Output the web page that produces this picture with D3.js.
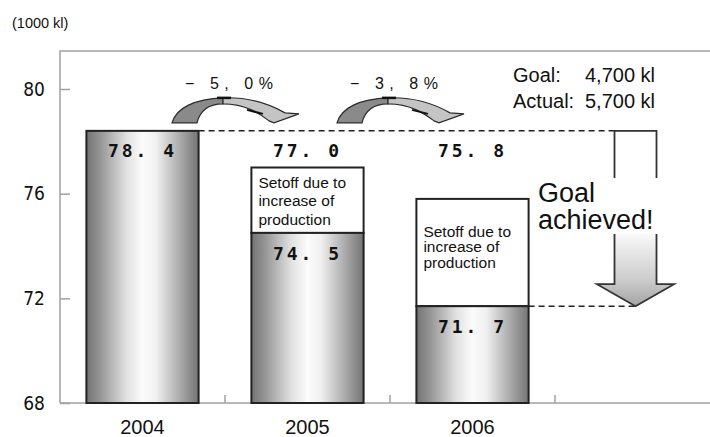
<!DOCTYPE html>
<html>
<head>
<meta charset="utf-8">
<script src="https://cdn.jsdelivr.net/npm/d3@7"></script>
<style>
  html, body { margin: 0; padding: 0; background: #fff; }
  svg { display: block; }
  text { font-family: "Liberation Sans", Arial, sans-serif; fill: #111; }
</style>
</head>
<body>
<svg id="chart" width="710" height="437"></svg>
<script>
// Fuel consumption (1000 kl): result after setoff and total including production increase
const years = ["2004", "2005", "2006"];
const actual = [78.4, 74.5, 71.7];
const totals = [78.4, 77.0, 75.8];
const pctChange = [-5.0, -3.8];
const yTicks = [68, 72, 76, 80];
const unitLabel = "(1000 kl)";
const setoffLines = ["Setoff due to", "increase of", "production"];
const goalLabels = ["Goal:", "Actual:"];
const goalValues = ["4,700 kl", "5,700 kl"];
const bannerLines = ["Goal", "achieved!"];

const plotLeft = 60, plotRight = 710, plotTop = 51, plotBottom = 403;
const svg = d3.select("#chart");
const defs = svg.append("defs");

// horizontal cylinder shading for the bars
const shade = defs.append("linearGradient").attr("id", "barShade")
  .attr("x1", "0%").attr("x2", "100%").attr("y1", "0%").attr("y2", "0%");
[[0, "#747474"], [0.12, "#949494"], [0.36, "#e2e2e2"], [0.5, "#fbfbfb"],
 [0.62, "#f0f0f0"], [0.86, "#a2a2a2"], [1, "#747474"]]
  .forEach(([o, c]) => shade.append("stop").attr("offset", o).attr("stop-color", c));

const slots = years.concat(["goal"]);
const x = d3.scaleBand().domain(slots).range([plotLeft, 720])
  .paddingInner(0.32).paddingOuter(0.16);
const y = d3.scaleLinear().domain([68, 80]).range([plotBottom, 89]);
const bw = x.bandwidth();
const step = x.step();

// frame
svg.append("path")
  .attr("d", `M${plotLeft},${plotBottom}V${plotTop}H${plotRight}`)
  .attr("fill", "none").attr("stroke", "#a0a0a0").attr("stroke-width", 1.5);
svg.append("line").attr("x1", plotLeft).attr("x2", plotRight).attr("y1", plotBottom).attr("y2", plotBottom)
  .attr("stroke", "#a0a0a0").attr("stroke-width", 1.5);

// y axis
const yAxis = svg.append("g").attr("transform", `translate(${plotLeft},0)`)
  .call(d3.axisLeft(y).tickValues(yTicks).tickSize(-10).tickPadding(15).tickFormat(d3.format("d")));
yAxis.select(".domain").remove();
yAxis.selectAll(".tick line").attr("stroke", "#a0a0a0").attr("stroke-width", 1.5);
yAxis.selectAll(".tick text")
  .style("font-family", "'DejaVu Sans Condensed', 'DejaVu Sans', sans-serif")
  .style("font-size", "19px").attr("fill", "#1a1a1a");

// x axis labels at band centres
const xAxis = svg.append("g").attr("transform", `translate(0,${plotBottom})`)
  .call(d3.axisBottom(x).tickValues(years).tickSize(0).tickPadding(17));
xAxis.select(".domain").remove();
xAxis.selectAll(".tick text").style("font-size", "20px").attr("fill", "#111");

// boundary ticks between categories
const bounds = slots.slice(1).map(d => x(d) - step * x.paddingInner() / 2);
svg.append("g").selectAll("line").data(bounds).join("line")
  .attr("x1", d => d).attr("x2", d => d)
  .attr("y1", plotBottom).attr("y2", plotBottom - 8)
  .attr("stroke", "#a0a0a0").attr("stroke-width", 1.5);

// unit label
svg.append("text").attr("x", 12).attr("y", 28).style("font-size", "14.5px").text(unitLabel);

// dashed reference lines
const arrowCx = x("goal") + bw / 2 - 2;
const stemHalf = 21, headHalf = 38.5;
svg.append("line")
  .attr("x1", x(years[0]) + bw).attr("x2", arrowCx - stemHalf)
  .attr("y1", y(totals[0])).attr("y2", y(totals[0]))
  .attr("stroke", "#222").attr("stroke-width", 1.5).attr("stroke-dasharray", "6,4");
svg.append("line")
  .attr("x1", x(years[2]) + bw).attr("x2", arrowCx)
  .attr("y1", y(actual[2])).attr("y2", y(actual[2]))
  .attr("stroke", "#222").attr("stroke-width", 1.5).attr("stroke-dasharray", "6,4");

// bars
const g = svg.append("g");
years.forEach((yr, i) => {
  const x0 = x(yr);
  if (totals[i] > actual[i]) {
    g.append("rect").attr("x", x0).attr("y", y(totals[i]))
      .attr("width", bw).attr("height", y(actual[i]) - y(totals[i]))
      .attr("fill", "#fff").attr("stroke", "#222").attr("stroke-width", 2);
  }
  g.append("rect").attr("x", x0).attr("y", y(actual[i]))
    .attr("width", bw).attr("height", y(68) - y(actual[i]))
    .attr("fill", "url(#barShade)").attr("stroke", "#222").attr("stroke-width", 2);
});

// setoff notes inside the white boxes
years.forEach((yr, i) => {
  if (totals[i] <= actual[i]) return;
  const boxTop = y(totals[i]), boxH = y(actual[i]) - y(totals[i]);
  const lh = boxH > 80 ? 15.5 : 18.5;
  const block = lh * 2 + 11;
  const first = boxTop + Math.max(20, (boxH - block) / 2 - 6 + 11);
  const t = svg.append("text").attr("x", x(yr) + 7).attr("y", first).style("font-size", "15.5px");
  setoffLines.forEach((s, k) => t.append("tspan").attr("x", x(yr) + 7).attr("y", first + k * lh).text(s));
});

// value labels
const fmtVal = v => d3.format(".1f")(v).replace(".", ".\u2003");
const valRow = y(totals[0]) + 20;
function valueLabel(cx, cy, v) {
  svg.append("text").attr("x", cx).attr("y", cy).attr("dy", "0.35em")
    .attr("text-anchor", "middle")
    .style("font-family", "'DejaVu Sans Mono', monospace").style("font-weight", "bold")
    .style("font-size", "18px").style("letter-spacing", "3px")
    .text(fmtVal(v));
}
years.forEach((yr, i) => {
  valueLabel(x(yr) + bw / 2, valRow, totals[i]);
  if (totals[i] > actual[i]) valueLabel(x(yr) + bw / 2, y(actual[i]) + 21, actual[i]);
});

// curved year-over-year arrows with percentage change
const fmtPct = v => (v < 0 ? "\u2212 " : "+ ") + d3.format(".1f")(Math.abs(v)).replace(".", ", ") + "%";
const baseY = y(totals[0]) - 8;
pctChange.forEach((p, i) => {
  const cx = bounds[i] + 4;
  const a = svg.append("g").attr("transform", `translate(${cx},${baseY})`);
  a.append("path")
    .attr("d", "M-57,0 C-53,-15 -34,-24 -6,-25 L-6,-19 C-20,-19 -29,-12 -32,0 Z")
    .attr("fill", "#8a8a8a").attr("stroke", "#2a2a2a").attr("stroke-width", 1.2);
  a.append("path")
    .attr("d", "M-6,-25 C20,-26 42,-18 56,-10 L70,-9 L45,0 L40,-2 C32,-8 18,-19 -6,-19 Z")
    .attr("fill", "#c4c4c4").attr("stroke", "#2a2a2a").attr("stroke-width", 1.2);
  a.append("path").attr("d", "M-12,-25 L2,-25").attr("stroke", "#111").attr("stroke-width", 2.5);
  a.append("path").attr("d", "M18,-13 L34,-9").attr("stroke", "#111").attr("stroke-width", 2);
  svg.append("text").attr("x", cx).attr("y", baseY - 34).attr("text-anchor", "middle")
    .style("font-size", "16px").attr("textLength", 88).attr("lengthAdjust", "spacing")
    .text(fmtPct(p));
});

// big down arrow from the 2004 level to the 2006 level
const aGrad = defs.append("linearGradient").attr("id", "arrowShade")
  .attr("gradientUnits", "userSpaceOnUse")
  .attr("x1", 0).attr("x2", 0).attr("y1", y(totals[0])).attr("y2", y(actual[2]));
[[0, "#ffffff"], [0.55, "#ffffff"], [0.85, "#cccccc"], [1, "#a4a4a4"]]
  .forEach(([o, c]) => aGrad.append("stop").attr("offset", o).attr("stop-color", c));
const tipY = y(actual[2]), headY = tipY - 22, topY = y(totals[0]);
svg.append("path")
  .attr("d", `M${arrowCx - stemHalf},${topY}H${arrowCx + stemHalf}V${headY}H${arrowCx + headHalf}` +
             `L${arrowCx},${tipY}L${arrowCx - headHalf},${headY}H${arrowCx - stemHalf}Z`)
  .attr("fill", "url(#arrowShade)").attr("stroke", "#333").attr("stroke-width", 1.8);

// goal / actual summary
goalLabels.forEach((s, k) => {
  const t = svg.append("text").attr("x", 513).attr("y", 82 + k * 26).style("font-size", "20px");
  t.append("tspan").text(s);
  t.append("tspan").attr("x", 585).text(goalValues[k]);
});

// banner over the arrow
svg.append("rect").attr("x", 535).attr("y", 178).attr("width", 133).attr("height", 56).attr("fill", "#fff");
const banner = svg.append("text").attr("x", 538).attr("y", 202).style("font-size", "27px");
bannerLines.forEach((s, k) => {
  banner.append("tspan").attr("x", 538).attr("y", 202 + k * 27).text(s);
});
</script>
</body>
</html>
